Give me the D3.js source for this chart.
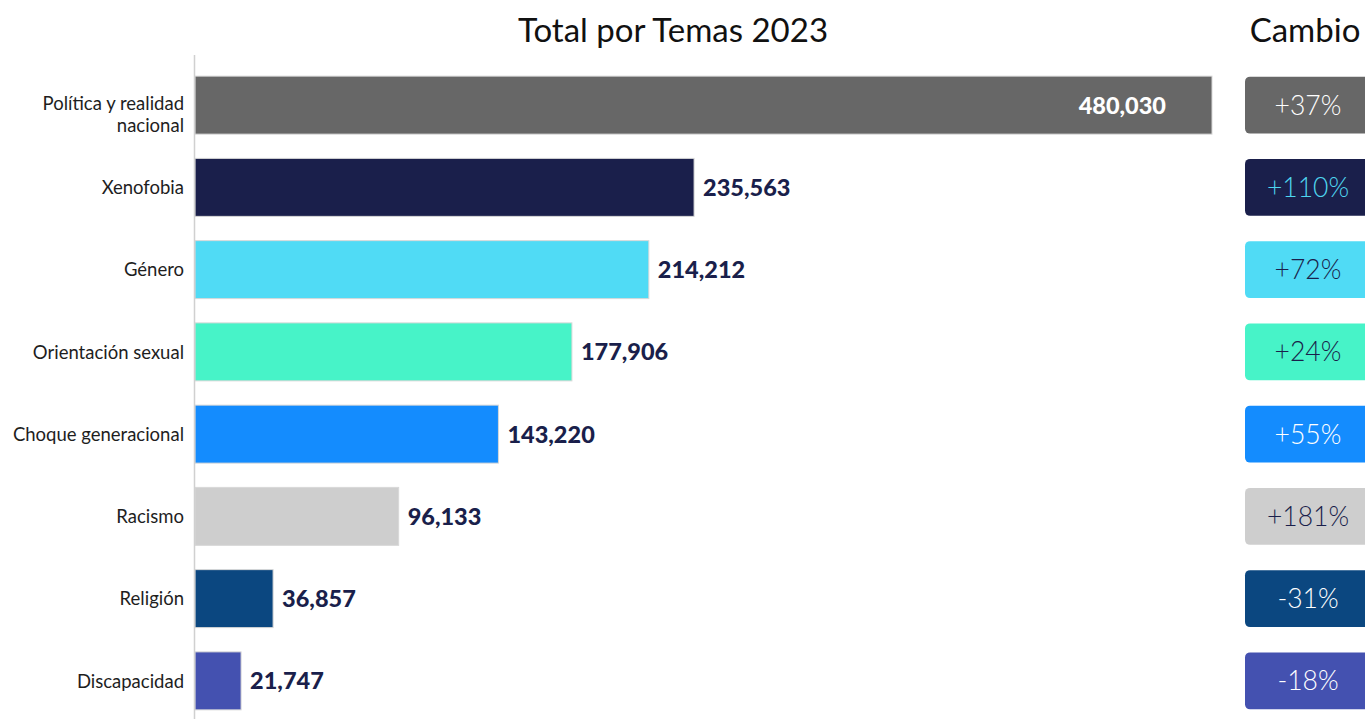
<!DOCTYPE html>
<html>
<head>
<meta charset="utf-8">
<script src="https://cdn.jsdelivr.net/npm/d3@7"></script>
<style>
  body { margin: 0; background: #fff; }
  svg { font-family: Lato, "Noto Sans", sans-serif; }
</style>
</head>
<body>
<svg id="chart" width="1365" height="719"></svg>
<script>
// data
var temas = ["Política y realidad nacional", "Xenofobia", "Género", "Orientación sexual",
             "Choque generacional", "Racismo", "Religión", "Discapacidad"];
var totales = [480030, 235563, 214212, 177906, 143220, 96133, 36857, 21747];
var cambios = ["+37%", "+110%", "+72%", "+24%", "+55%", "+181%", "-31%", "-18%"];

// colors per row
var colores = ["#676767", "#1a1f4b", "#50dbf5", "#47f3c8", "#148cfe", "#cecece", "#0b4780", "#4451b0"];
var colorCambio = ["#ffffff", "#4fd6ef", "#1a1f4b", "#1a1f4b", "#ffffff", "#1a1f4b", "#ffffff", "#ffffff"];

var svg = d3.select("#chart");

var y = d3.scaleBand()
    .domain(temas)
    .range([64, 722])
    .paddingInner(0.295)
    .paddingOuter(0.1475);

var x = d3.scaleLinear()
    .domain([0, d3.max(totales)])
    .range([195, 1212]);

var fmt = d3.format(",");

// titles
svg.append("text")
    .attr("x", 673).attr("y", 42)
    .attr("text-anchor", "middle")
    .attr("font-size", 33)
    .attr("fill", "#111")
    .text("Total por Temas 2023");

svg.append("text")
    .attr("x", 1305).attr("y", 42)
    .attr("text-anchor", "middle")
    .attr("font-size", 33)
    .attr("fill", "#111")
    .text("Cambio");

// bars
svg.selectAll(".bar")
    .data(temas)
  .enter().append("rect")
    .attr("class", "bar")
    .attr("x", x(0))
    .attr("y", function(d) { return y(d); })
    .attr("width", function(d, i) { return x(totales[i]) - x(0); })
    .attr("height", y.bandwidth())
    .attr("fill", function(d, i) { return colores[i]; })
    .attr("stroke", "#d8d8d8")
    .attr("stroke-width", 1);

// axis line
svg.append("line")
    .attr("x1", 194.5).attr("x2", 194.5)
    .attr("y1", 55).attr("y2", 719)
    .attr("stroke", "#d0d0d0")
    .attr("stroke-width", 1.5);

// value labels
svg.selectAll(".valor")
    .data(temas)
  .enter().append("text")
    .attr("class", "valor")
    .attr("x", function(d, i) { return i == 0 ? x(totales[i]) - 46 : x(totales[i]) + 9; })
    .attr("y", function(d) { return y(d) + y.bandwidth() / 2; })
    .attr("dy", "0.36em")
    .attr("text-anchor", function(d, i) { return i == 0 ? "end" : "start"; })
    .attr("font-size", 23.5)
    .attr("font-weight", 900)
    .attr("fill", function(d, i) { return i == 0 ? "#ffffff" : "#1a1f4b"; })
    .text(function(d, i) { return fmt(totales[i]); });

// category labels (first one wraps)
svg.selectAll(".tema")
    .data(temas)
  .enter().append("text")
    .attr("class", "tema")
    .attr("x", 184)
    .attr("y", function(d) { return y(d) + y.bandwidth() / 2; })
    .attr("text-anchor", "end")
    .attr("font-size", 18.5)
    .attr("fill", "#1e1e1e")
    .each(function(d, i) {
      var t = d3.select(this);
      if (i == 0) {
        t.append("tspan").attr("x", 184).attr("dy", "0.27em").text("Política y realidad");
        t.append("tspan").attr("x", 184).attr("dy", "1.2em").text("nacional");
      } else {
        t.attr("dy", "0.36em").text(d);
      }
    });

// change boxes
svg.selectAll(".caja")
    .data(temas)
  .enter().append("rect")
    .attr("class", "caja")
    .attr("x", 1245)
    .attr("y", function(d) { return y(d) + 0.5; })
    .attr("width", 130)
    .attr("height", y.bandwidth() - 1)
    .attr("rx", 5)
    .attr("fill", function(d, i) { return colores[i]; });

svg.selectAll(".cambio")
    .data(temas)
  .enter().append("text")
    .attr("class", "cambio")
    .attr("x", 1308)
    .attr("y", function(d) { return y(d) + y.bandwidth() / 2; })
    .attr("dy", "0.36em")
    .attr("text-anchor", "middle")
    .attr("font-size", 26.5)
    .attr("font-weight", 300)
    .attr("fill", function(d, i) { return colorCambio[i]; })
    .text(function(d, i) { return cambios[i]; });
</script>
</body>
</html>
